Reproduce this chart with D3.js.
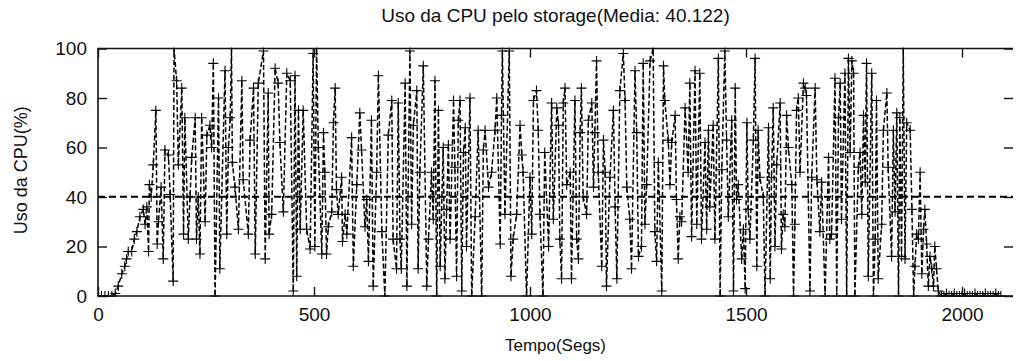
<!DOCTYPE html>
<html><head><meta charset="utf-8">
<script src="https://cdn.jsdelivr.net/npm/d3@7"></script>
<style>html,body{margin:0;padding:0;background:#fff;}svg{display:block;}</style>
</head><body>
<script>
const titleText = "Uso da CPU pelo storage(Media: 40.122)";
const xLabel = "Tempo(Segs)";
const yLabel = "Uso da CPU(%)";
const meanValue = 40.122;
const xTicks = [0, 500, 1000, 1500, 2000];
const yTicks = [0, 20, 40, 60, 80, 100];

const times = [0,8,16,24,32,40,47,55,62,66,70,78,84,90,97,105,109,113,117,119,123,128,134,137,140,146,151,155,163,167,174,176,182,186,194,198,201,209,213,217,225,228,232,236,240,248,252,259,263,267,271,279,282,294,298,302,306,309,311,317,325,333,336,
348,352,360,364,371,383,387,394,396,402,410,417,421,429,437,445,452,456,460,464,468,475,483,491,498,502,506,510,518,522,525,529,533,541,545,549,552,556,564,566,572,576,587,591,599,606,610,618,622,626,633,637,645,649,657,664,672,680,683,691,
695,699,702,711,715,722,726,730,738,741,745,753,761,765,772,776,780,784,788,792,799,803,807,811,815,823,826,830,834,838,842,846,850,853,861,865,873,880,888,892,896,904,911,919,923,931,934,936,942,952,956,961,969,977,981,984,992,1000,1004,1008,1015,1019,1023,1030,1034,1043,
1050,1054,1062,1066,1069,1073,1077,1081,1085,1093,1096,1104,1108,1112,1116,1119,1123,1131,1135,1143,1147,1150,1154,1158,1166,1170,1174,1177,1185,1193,1197,1201,1208,1216,1220,1224,1231,1235,1243,1247,1251,1258,1262,1266,1270,1278,1285,1289,1293,1297,1305,1309,1312,1320,1324,1328,1336,1339,1343,1347,1351,1359,1366,1370,1374,1382,1386,
1393,1397,1405,1409,1413,1416,1424,1428,1436,1440,1444,1451,1455,1459,1467,1471,1475,1478,1482,1490,1494,1498,1502,1505,1509,1517,1521,1525,1528,1532,1540,1544,1552,1556,1559,1563,1567,1571,1579,1582,1586,1590,1594,1598,1606,1610,1613,1617,1621,1625,1633,1637,1640,1648,1652,1660,1664,1671,1675,1683,1691,1694,1698,1706,1710,1714,1718,1721,1729,1733,
1737,1741,1745,1749,1752,1760,1764,1768,1772,1776,1779,1783,1791,1795,1799,1802,1806,1814,1818,1826,1829,1837,1841,1845,1849,1853,1856,1860,1864,1868,1872,1880,1884,1888,1891,1895,1899,1903,1907,1911,1914,1918,1922,1926,1930,1934,1937,1941,1945,
1952,1958,1964,1970,1976,1982,1988,1994,2000,2006,2012,2018,2024,2030,2036,2042,2048,2054,2060,2066,2072,2078,2084,2090];

const cpu = [0,0,0,0,0,1,4,9,12,15,18,18,23,26,32,35,29,36,18,45,40,53,75,21,30,44,15,59,57,41,6,100,87,53,84,25,72,23,40,56,72,23,40,17,72,30,65,69,60,94,0,80,11,91,25,60,72,100,54,44,27,87,47,
25,63,84,17,86,99,15,82,25,33,92,86,62,34,90,87,2,89,8,75,27,75,27,19,98,20,100,60,17,66,50,17,28,34,70,84,43,33,48,22,33,25,64,12,45,74,59,28,39,14,71,4,50,89,26,0,65,79,23,11,
78,23,11,86,4,99,29,69,83,11,50,93,4,23,50,31,87,0,75,12,60,7,35,61,23,79,52,8,71,79,2,58,68,20,80,0,32,67,0,59,67,44,50,67,80,21,73,99,33,99,8,23,33,69,57,50,0,48,25,79,83,67,33,0,58,20,
78,31,76,69,23,7,78,84,45,50,7,79,23,15,66,84,40,33,71,78,44,66,95,50,12,63,50,4,48,75,36,7,83,98,79,44,31,11,91,66,16,20,94,29,45,95,100,26,14,54,2,93,79,63,45,62,73,39,15,32,30,76,50,86,24,91,29,
90,23,62,27,67,36,69,23,96,0,51,99,63,32,71,2,84,39,45,15,27,3,70,35,23,63,96,12,67,48,40,0,68,7,48,76,20,53,78,19,33,28,73,60,45,0,29,75,80,50,86,84,81,2,48,84,47,26,46,0,56,23,25,88,0,72,86,31,90,0,
96,58,95,90,0,52,58,33,73,46,94,8,90,0,23,79,7,29,67,82,52,16,67,34,74,0,72,16,100,15,70,67,35,0,12,25,23,50,9,27,35,21,4,16,11,4,20,11,2,
0,0,1,0,0,1,0,0,0,1,0,0,0,1,0,0,0,1,0,0,0,1,0,0];

const W = 1017, H = 361;
const mLeft = 98, mRight = 1013, mTop = 48.5, mBottom = 296;
const font = "'Liberation Sans', Arial, Helvetica, sans-serif";

const svg = d3.select("body").append("svg").attr("width", W).attr("height", H);

const x = d3.scaleLinear().domain([0, 2118]).range([mLeft, mRight]);
const y = d3.scaleLinear().domain([0, 100]).range([mBottom, mTop]);

const data = times.map((t, i) => ({t: t, v: cpu[i]})).filter(d => d.v !== undefined);

svg.append("clipPath").attr("id", "clip").append("rect")
  .attr("x", mLeft).attr("y", mTop - 1).attr("width", mRight - mLeft).attr("height", mBottom - mTop + 2);

const g = svg.append("g").attr("clip-path", "url(#clip)");

// mean line
g.append("line")
  .attr("x1", x(0)).attr("x2", mRight)
  .attr("y1", y(meanValue)).attr("y2", y(meanValue))
  .attr("stroke", "#000").attr("stroke-width", 2).attr("stroke-dasharray", "7,4");

// data line
const line = d3.line().x(d => x(d.t)).y(d => y(d.v));
g.append("path").datum(data)
  .attr("d", line).attr("fill", "none")
  .attr("stroke", "#000").attr("stroke-width", 1.5).attr("stroke-dasharray", "5,2.5");

// markers
const m = 5;
g.selectAll("path.pt").data(data).enter().append("path")
  .attr("class", "pt")
  .attr("d", d => `M${x(d.t) - m},${y(d.v)}H${x(d.t) + m}M${x(d.t)},${y(d.v) - m}V${y(d.v) + m}`)
  .attr("stroke", "#000").attr("stroke-width", 1.1).attr("fill", "none");

// border (left, top, bottom)
svg.append("path")
  .attr("d", `M${mRight},${mTop}H${mLeft}V${mBottom}H${mRight}`)
  .attr("fill", "none").attr("stroke", "#111").attr("stroke-width", 1.6);

// axes with inward ticks
const yAxisL = d3.axisLeft(y).tickValues(yTicks).tickSize(-9).tickPadding(11).tickFormat(d3.format("d"));
const yAxisR = d3.axisRight(y).tickValues(yTicks).tickSize(-9).tickFormat("");
const xAxisB = d3.axisBottom(x).tickValues(xTicks).tickSize(-9).tickPadding(12).tickFormat(d3.format("d"));
const xAxisT = d3.axisTop(x).tickValues(xTicks).tickSize(-9).tickFormat("");

function style(sel) {
  sel.select(".domain").remove();
  sel.selectAll(".tick line").attr("stroke", "#111").attr("stroke-width", 1.4);
  sel.selectAll(".tick text").attr("fill", "#111").attr("font-family", font).attr("font-size", 19);
}
svg.append("g").attr("transform", `translate(${mLeft},0)`).call(yAxisL).call(style);
svg.append("g").attr("transform", `translate(${mRight},0)`).call(yAxisR).call(style);
svg.append("g").attr("transform", `translate(0,${mBottom})`).call(xAxisB).call(style);
svg.append("g").attr("transform", `translate(0,${mTop})`).call(xAxisT).call(style);

// title and labels
svg.append("text").attr("x", (mLeft + mRight) / 2).attr("y", 22)
  .attr("text-anchor", "middle").attr("font-family", font).attr("font-size", 19).attr("fill", "#111")
  .text(titleText);
svg.append("text").attr("x", (mLeft + mRight) / 2).attr("y", 351)
  .attr("text-anchor", "middle").attr("font-family", font).attr("font-size", 17).attr("fill", "#111")
  .text(xLabel);
svg.append("text").attr("transform", `translate(27,${(mTop + mBottom) / 2 - 2}) rotate(-90)`)
  .attr("text-anchor", "middle").attr("font-family", font).attr("font-size", 18).attr("fill", "#111")
  .text(yLabel);
</script>
</body></html>
